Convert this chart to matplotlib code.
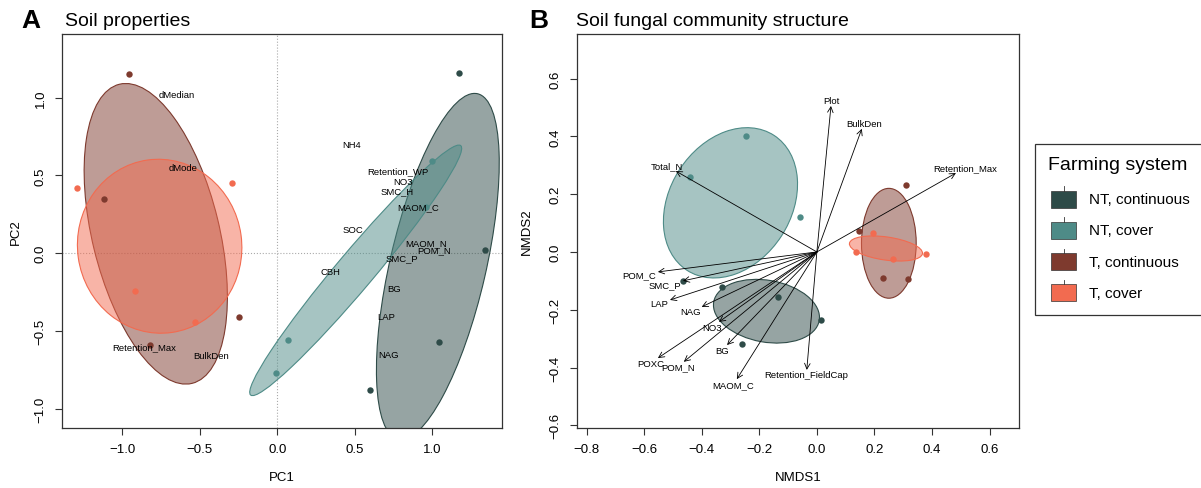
import matplotlib.pyplot as plt
from matplotlib.patches import Ellipse, Rectangle
import numpy as np

plt.rcParams['font.family'] = ['Liberation Sans', 'DejaVu Sans']

groups = ['NT, continuous', 'NT, cover', 'T, continuous', 'T, cover']
colors = ['#2E4B48', '#4E8B87', '#7E3A2E', '#F26B50']

# soil properties PCA, sample scores per farming system
pca_pc1 = [[1.17, 1.34, 1.04, 0.60],
           [0.07, -0.01, 1.00, 0.96],
           [-0.96, -1.12, -0.25, -0.82],
           [-1.29, -0.29, -0.92, -0.53]]
pca_pc2 = [[1.16, 0.02, -0.57, -0.88],
           [-0.56, -0.77, 0.59, 0.30],
           [1.15, 0.35, -0.41, -0.59],
           [0.42, 0.45, -0.24, -0.44]]

# group ellipses (centre, width, height, angle)
pca_ell_x = [1.035, 0.505, -0.785, -0.76]
pca_ell_y = [-0.085, -0.11, 0.125, 0.045]
pca_ell_w = [2.28, 2.10, 1.98, 1.06]
pca_ell_h = [0.62, 0.24, 0.82, 1.12]
pca_ell_ang = [77, 49.8, 103.7, 8]

# variable loadings
pca_vars = ['dMedian', 'dMode', 'NH4', 'Retention_WP', 'NO3', 'SMC_H', 'MAOM_C',
            'SOC', 'MAOM_N', 'POM_N', 'SMC_P', 'CBH', 'BG', 'LAP', 'NAG',
            'Retention_Max', 'BulkDen']
pca_var_pc1 = [-0.65, -0.61, 0.48, 0.78, 0.81, 0.77, 0.91,
               0.49, 0.96, 1.01, 0.80, 0.34, 0.75, 0.70, 0.72,
               -0.86, -0.43]
pca_var_pc2 = [1.02, 0.55, 0.70, 0.53, 0.46, 0.40, 0.30,
               0.15, 0.065, 0.02, -0.03, -0.12, -0.23, -0.41, -0.65,
               -0.60, -0.66]

# fungal community NMDS, site scores
nmds1 = [[-0.465, -0.33, -0.135, 0.014, -0.26],
         [-0.246, -0.44, -0.06],
         [0.31, 0.145, 0.23, 0.315],
         [0.195, 0.135, 0.265, 0.38]]
nmds2 = [[-0.10, -0.12, -0.155, -0.235, -0.32],
         [0.40, 0.26, 0.12],
         [0.23, 0.073, -0.09, -0.094],
         [0.066, 0.0, -0.025, -0.006]]

nmds_ell_x = [-0.175, -0.30, 0.25, 0.24]
nmds_ell_y = [-0.205, 0.17, 0.03, 0.012]
nmds_ell_w = [0.372, 0.556, 0.19, 0.256]
nmds_ell_h = [0.214, 0.422, 0.38, 0.08]
nmds_ell_ang = [-10, 57, 0, -8]

# fitted environmental vectors
env_vars = ['Plot', 'BulkDen', 'Retention_Max', 'Total_N', 'POM_C', 'SMC_P',
            'LAP', 'NAG', 'NO3', 'BG', 'POXC', 'POM_N', 'MAOM_C',
            'Retention_FieldCap']
env_nmds1 = [0.049, 0.156, 0.483, -0.49, -0.552, -0.465,
             -0.51, -0.40, -0.34, -0.312, -0.552, -0.462, -0.278,
             -0.035]
env_nmds2 = [0.505, 0.426, 0.273, 0.28, -0.069, -0.10,
             -0.166, -0.19, -0.242, -0.322, -0.367, -0.38, -0.44,
             -0.408]

W, H = 1201, 489
fig = plt.figure(figsize=(W / 100, H / 100), dpi=100)
axA = fig.add_axes([62 / W, 1 - 429 / H, 440 / W, 394 / H])
axB = fig.add_axes([577 / W, 1 - 429 / H, 442 / W, 394 / H])


def style_axes(ax):
    for s in ax.spines.values():
        s.set_color('#333333')
        s.set_linewidth(0.9)
    ax.tick_params(length=5, width=0.8, color='#333333', labelsize=9.5, pad=6)
    ax.tick_params(axis='y', labelrotation=90)
    for lab in ax.get_yticklabels():
        lab.set_va('center')


def draw_ellipses(ax, ex, ey, ew, eh, ea):
    for i, c in enumerate(colors):
        ax.add_patch(Ellipse((ex[i], ey[i]), ew[i], eh[i], angle=ea[i],
                             facecolor=c, alpha=0.5, edgecolor='none', zorder=2))
        ax.add_patch(Ellipse((ex[i], ey[i]), ew[i], eh[i], angle=ea[i],
                             facecolor='none', edgecolor=c, lw=0.8, zorder=2))


# ---- A: soil properties
axA.axhline(0, color='#AAAAAA', ls=':', lw=0.8, zorder=1)
axA.axvline(0, color='#AAAAAA', ls=':', lw=0.8, zorder=1)
draw_ellipses(axA, pca_ell_x, pca_ell_y, pca_ell_w, pca_ell_h, pca_ell_ang)
for i, c in enumerate(colors):
    axA.plot(pca_pc1[i], pca_pc2[i], 'o', color=c, ms=4.6, mec='none', zorder=3)
for v, x, y in zip(pca_vars, pca_var_pc1, pca_var_pc2):
    axA.text(x, y, v, fontsize=6.8, ha='center', va='center', zorder=4)
axA.set_xlim(-1.39, 1.449)
axA.set_ylim(-1.124, 1.41)
axA.set_xticks([-1, -0.5, 0, 0.5, 1])
axA.set_yticks([-1, -0.5, 0, 0.5, 1])
style_axes(axA)
axA.set_xlabel('PC1', fontsize=9.5, va='center')
axA.xaxis.set_label_coords(0.5, -0.124)
axA.set_ylabel('PC2', fontsize=9.5, va='center')
axA.yaxis.set_label_coords(-0.105, 0.5)

# ---- B: fungal community structure
draw_ellipses(axB, nmds_ell_x, nmds_ell_y, nmds_ell_w, nmds_ell_h, nmds_ell_ang)
for i, c in enumerate(colors):
    axB.plot(nmds1[i], nmds2[i], 'o', color=c, ms=4.6, mec='none', zorder=3)
axB.set_xlim(-0.833, 0.702)
axB.set_ylim(-0.609, 0.754)
axB.set_xticks(np.arange(-0.8, 0.61, 0.2))
axB.set_yticks(np.arange(-0.6, 0.61, 0.2))
style_axes(axB)
axB.set_xlabel('NMDS1', fontsize=9.5, va='center')
axB.xaxis.set_label_coords(0.5, -0.124)
axB.set_ylabel('NMDS2', fontsize=9.5, va='center')
axB.yaxis.set_label_coords(-0.113, 0.5)

renderer = fig.canvas.get_renderer()
for v, x, y in zip(env_vars, env_nmds1, env_nmds2):
    axB.annotate('', xy=(x, y), xytext=(0, 0), zorder=4,
                 arrowprops=dict(arrowstyle='->,head_length=0.5,head_width=0.25',
                                 lw=0.6, color='black', shrinkA=0, shrinkB=0,
                                 mutation_scale=8))
    # push the label off the arrow head so the arrow points at its box edge
    t = axB.text(x, y, v, fontsize=6.8, ha='center', va='center', zorder=5)
    w = t.get_window_extent(renderer).width
    h = 6.8 * fig.dpi / 72 * 0.72
    ox, oy = axB.transData.transform((0, 0))
    px, py = axB.transData.transform((x, y))
    dx, dy = px - ox, py - oy
    offx = np.sign(dx) * (w / 2 + h / 4)
    offy = 0.75 * h * np.sign(dy)
    b = dy / dx
    move = offy / b
    if np.isfinite(move) and abs(move) <= abs(offx):
        offx = move
    else:
        offy = b * offx
    t.set_position(axB.transData.inverted().transform((px + offx, py + offy)))

# panel letters and titles
fig.text(21 / W, 1 - 28 / H, 'A', fontsize=19, fontweight='bold', va='baseline')
fig.text(65 / W, 1 - 26 / H, 'Soil properties', fontsize=14, va='baseline')
fig.text(529 / W, 1 - 28 / H, 'B', fontsize=19, fontweight='bold', va='baseline')
fig.text(576 / W, 1 - 26 / H, 'Soil fungal community structure', fontsize=14,
         va='baseline')

# legend drawn in pixel space
lg = fig.add_axes([0, 0, 1, 1], zorder=-1)
lg.set_xlim(0, W)
lg.set_ylim(H, 0)
lg.axis('off')
lg.add_patch(Rectangle((1035, 145), 200, 171, facecolor='white',
                       edgecolor='#333333', lw=0.9))
lg.text(1048, 165, 'Farming system', fontsize=14, va='center', ha='left')
for i, (g, c) in enumerate(zip(groups, colors)):
    yc = 200 + i * 31.3
    lg.add_patch(Rectangle((1051, yc - 8.5), 25, 17, facecolor=c,
                           edgecolor='#333333', lw=0.5))
    lg.plot([1063.5, 1063.5], [yc - 13, yc - 8.5], color='#333333', lw=0.6)
    lg.text(1089, yc, g, fontsize=11, va='center', ha='left')

fig.savefig('out.png', dpi=100)
